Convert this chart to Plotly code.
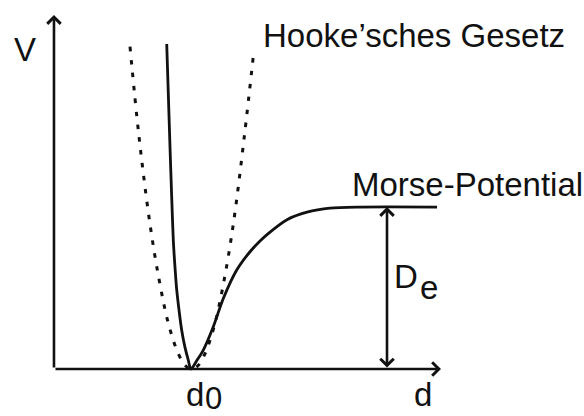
import plotly.graph_objects as go

# Morse potential V(d): repulsive wall on the left, dissociation plateau at D_e on the right
morse_d = [0.823, 0.835, 0.847, 0.859, 0.871, 0.884, 0.896, 0.914, 0.932, 0.956, 0.980, 1.000,
           1.045, 1.090, 1.163, 1.236, 1.334, 1.431, 1.504, 1.555, 1.701, 1.847, 2.015, 2.234, 2.796]
morse_v = [2.006, 1.690, 1.370, 1.070, 0.796, 0.620, 0.488, 0.355, 0.241, 0.135, 0.056, 0.000,
           0.055, 0.117, 0.261, 0.435, 0.611, 0.724, 0.790, 0.830, 0.922, 0.968, 0.993, 1.000, 1.000]

# Harmonic (Hooke) parabola around the equilibrium distance
hooke_d = [0.555, 0.620, 0.700, 0.770, 0.840, 0.910, 0.960, 1.005,
           1.050, 1.100, 1.170, 1.240, 1.310, 1.390, 1.460]
hooke_v = [1.990, 1.440, 0.900, 0.540, 0.265, 0.090, 0.020, 0.000,
           0.020, 0.090, 0.265, 0.540, 0.900, 1.440, 1.970]

d0 = 1.0          # equilibrium distance
De = 1.0          # dissociation energy
v_axis_top = 2.185
d_axis_end = 2.825
de_arrow_d = 2.431

INK = "#111111"
FONT = "Liberation Sans, Arial, sans-serif"

fig = go.Figure()

fig.add_trace(go.Scatter(
    x=hooke_d, y=hooke_v, mode="lines",
    line=dict(color=INK, width=3, dash="4.5px,8.5px", shape="spline", smoothing=1.0),
    hoverinfo="skip", showlegend=False))

fig.add_trace(go.Scatter(
    x=morse_d, y=morse_v, mode="lines",
    line=dict(color=INK, width=2.8, shape="spline", smoothing=0.8),
    hoverinfo="skip", showlegend=False))

arrow_common = dict(text="", showarrow=True, xref="x", yref="y", axref="x", ayref="y",
                    arrowcolor=INK, arrowwidth=2.6, arrowhead=4, arrowsize=1.0,
                    standoff=0, startstandoff=0)

annotations = [
    # V axis
    dict(x=0, y=v_axis_top, ax=0, ay=0, **arrow_common),
    # d axis
    dict(x=d_axis_end, y=0, ax=0, ay=0, **arrow_common),
    # D_e double arrow
    dict(x=de_arrow_d, y=De, ax=de_arrow_d, ay=0, arrowside="end+start",
         startarrowhead=4, startarrowsize=1.0, **arrow_common),
]

def label(text, x, y, size=33, xanchor="left"):
    return dict(text=text, x=x, y=y, xref="x", yref="y", showarrow=False,
                xanchor=xanchor, yanchor="middle",
                font=dict(family=FONT, size=size, color=INK))

annotations += [
    label("V", -0.215, 1.975, xanchor="center"),
    label("Hooke’sches Gesetz", 1.512, 2.056),
    label("Morse-Potential", 2.160, 1.142),
    label("D", 2.470, 0.574),
    label("e", 2.655, 0.505),
    label("d", 0.948, -0.157),
    label("0", 1.085, -0.180, size=31),
    label("d", 2.612, -0.160),
]

fig.update_layout(
    width=584, height=416,
    margin=dict(l=0, r=0, t=0, b=0),
    paper_bgcolor="white", plot_bgcolor="white",
    xaxis=dict(range=[-0.394, 3.869], visible=False, fixedrange=True),
    yaxis=dict(range=[-0.290, 2.278], visible=False, fixedrange=True),
    annotations=annotations,
    showlegend=False,
)

fig.write_html("out.html")
